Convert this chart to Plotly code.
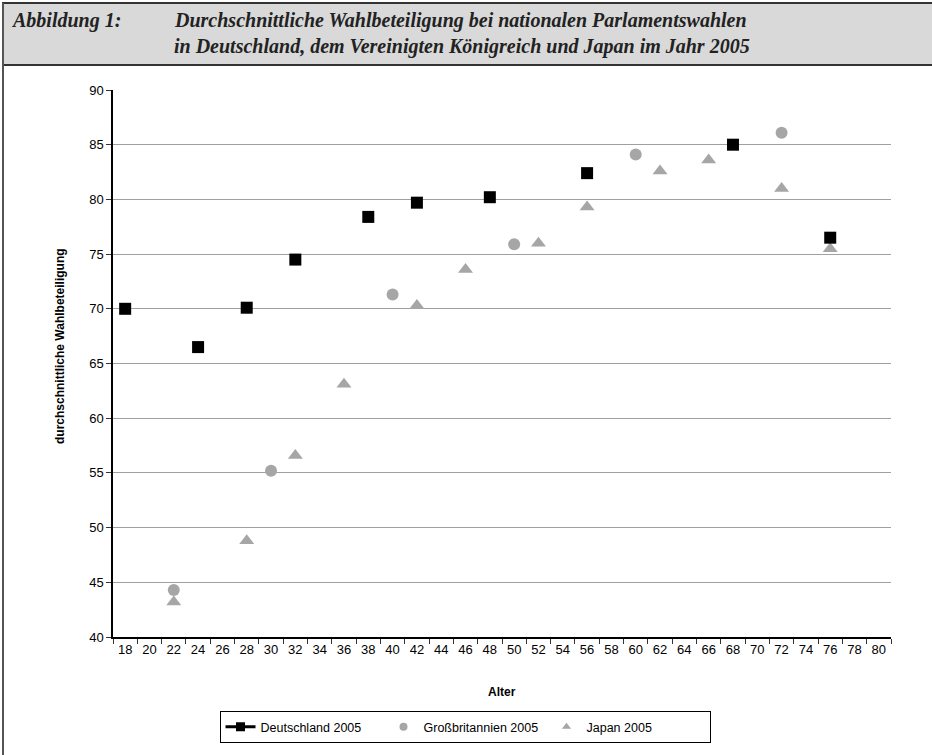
import plotly.graph_objects as go

W, H = 932, 755
L, R, T, B = 113, 891, 90, 637  # plot area in pixels

ages = [str(a) for a in range(18, 81, 2)]

de_age = ["18", "24", "28", "32", "38", "42", "48", "56", "68", "76"]
de_val = [70.0, 66.5, 70.1, 74.5, 78.4, 79.7, 80.2, 82.4, 85.0, 76.5]

gb_age = ["22", "30", "40", "50", "60", "72"]
gb_val = [44.3, 55.2, 71.3, 75.9, 84.1, 86.1]

jp_age = ["22", "28", "32", "36", "42", "46", "52", "56", "62", "66", "72", "76"]
jp_val = [43.2, 48.8, 56.6, 63.1, 70.3, 73.6, 76.0, 79.3, 82.6, 83.6, 81.0, 75.5]

y_ticks = list(range(40, 91, 5))

title_l1 = "Durchschnittliche Wahlbeteiligung bei nationalen Parlamentswahlen"
title_l2 = "in Deutschland, dem Vereinigten Königreich und Japan im Jahr 2005"


def px(x):
    return (x - L) / (R - L)


def py(y):
    return (B - y) / (B - T)


GRAY = "#a6a6a6"

fig = go.Figure()
fig.add_trace(go.Scatter(x=gb_age, y=gb_val, mode="markers", name="Großbritannien 2005",
                         marker=dict(symbol="circle", size=12, color=GRAY), showlegend=False))
fig.add_trace(go.Scatter(x=jp_age, y=jp_val, mode="markers", name="Japan 2005",
                         marker=dict(symbol="triangle-up", size=13, color=GRAY), showlegend=False))
fig.add_trace(go.Scatter(x=de_age, y=de_val, mode="markers", name="Deutschland 2005",
                         marker=dict(symbol="square", size=12, color="black"), showlegend=False))

# legend entries
fig.add_trace(go.Scatter(x=[None], y=[None], mode="lines+markers", name="Deutschland 2005",
                         line=dict(color="black", width=3),
                         marker=dict(symbol="square", size=9, color="black")))
fig.add_trace(go.Scatter(x=[None], y=[None], mode="markers", name="Großbritannien 2005",
                         marker=dict(symbol="circle", size=8, color=GRAY)))
fig.add_trace(go.Scatter(x=[None], y=[None], mode="markers", name="Japan 2005",
                         marker=dict(symbol="triangle-up", size=8, color=GRAY)))

shapes = [
    # title band
    dict(type="rect", xref="paper", yref="paper", x0=px(3), x1=px(934), y0=py(65), y1=py(3),
         fillcolor="#d9d9d9", line=dict(color="#333333", width=2), layer="below"),
    # left frame line
    dict(type="line", xref="paper", yref="paper", x0=px(3), x1=px(3), y0=py(3), y1=py(757),
         line=dict(color="#555555", width=2)),
]

TFONT = dict(family="Liberation Serif", size=20, color="#222222")
annotations = [
    dict(text="<b><i>Abbildung 1:</i></b>", xref="paper", yref="paper", x=px(9), y=py(21),
         xanchor="left", yanchor="middle", showarrow=False, font=TFONT),
    dict(text="<b><i>" + title_l1 + "</i></b>", xref="paper", yref="paper", x=px(172), y=py(21),
         xanchor="left", yanchor="middle", showarrow=False, font=TFONT),
    dict(text="<b><i>" + title_l2 + "</i></b>", xref="paper", yref="paper", x=px(172), y=py(46),
         xanchor="left", yanchor="middle", showarrow=False, font=TFONT),
    dict(text="<b>durchschnittliche Wahlbeteiligung</b>", xref="paper", yref="paper",
         x=px(60), y=py(346), xanchor="center", yanchor="middle", textangle=-90, showarrow=False,
         font=dict(family="Liberation Sans", size=12, color="black")),
    dict(text="<b>Alter</b>", xref="paper", yref="paper", x=px(502), y=py(692),
         xanchor="center", yanchor="middle", showarrow=False,
         font=dict(family="Liberation Sans", size=12, color="black")),
]

fig.update_layout(
    width=W, height=H,
    margin=dict(l=L, r=W - R, t=T, b=H - B, autoexpand=False),
    paper_bgcolor="white", plot_bgcolor="white",
    shapes=shapes, annotations=annotations,
    showlegend=True,
    legend=dict(orientation="h", x=px(465), y=py(711), xanchor="center", yanchor="top",
                bordercolor="black", borderwidth=1, bgcolor="white",
                font=dict(family="Liberation Sans", size=12.5, color="black"),
                entrywidth=118, traceorder="normal"),
    xaxis=dict(type="category", categoryorder="array", categoryarray=ages,
               range=[-0.5, len(ages) - 0.5], tickson="boundaries",
               ticks="outside", ticklen=5, tickcolor="#333333",
               showline=True, linecolor="black", linewidth=1.5,
               showgrid=False, zeroline=False,
               tickfont=dict(family="Liberation Sans", size=13, color="black")),
    yaxis=dict(range=[40, 90], tickvals=y_ticks, ticks="outside", ticklen=5,
               tickcolor="#333333", showline=True, linecolor="black", linewidth=1.5,
               showgrid=True, gridcolor="#a0a0a0", gridwidth=1, zeroline=False,
               tickfont=dict(family="Liberation Sans", size=13, color="black")),
)

fig.write_html("out.html", config={"displayModeBar": False},
               post_script="document.body.style.margin='0px';")
